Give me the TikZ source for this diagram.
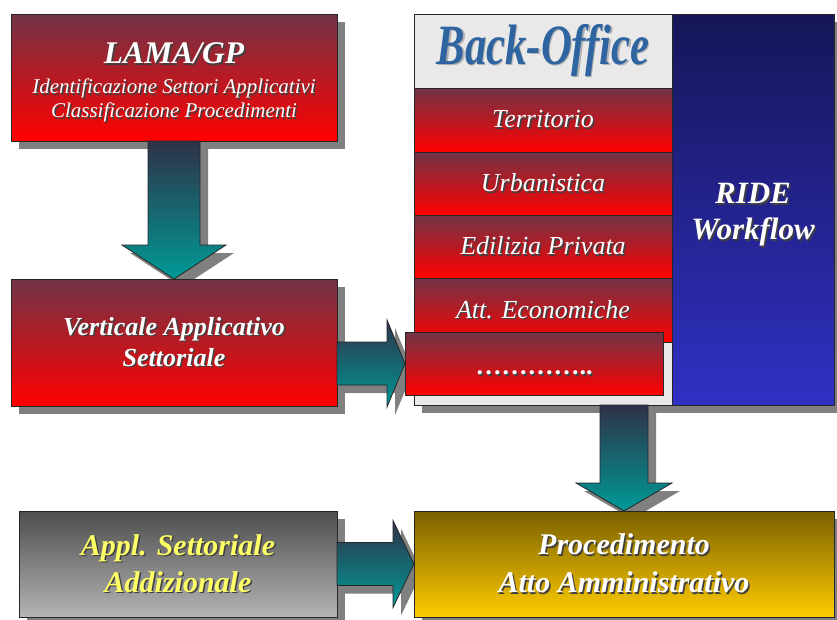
\documentclass[tikz,border=0pt]{standalone}
\usepackage{fontspec}
\setmainfont{Liberation Serif}
\newfontfamily\condserif{Liberation Serif}[FakeStretch=0.75]
\usepackage{tikz}
\usetikzlibrary{calc,shadows}

\definecolor{maroontop}{RGB}{112,52,70}
\definecolor{ridetop}{RGB}{22,22,88}
\definecolor{ridebottom}{RGB}{48,48,196}
\definecolor{goldtop}{RGB}{122,96,0}
\definecolor{goldbottom}{RGB}{255,204,0}
\definecolor{greytop}{RGB}{78,78,78}
\definecolor{greybottom}{RGB}{180,180,180}
\definecolor{arrowtop}{RGB}{47,49,72}
\definecolor{arrowbottom}{RGB}{0,154,150}
\definecolor{shadowgray}{RGB}{128,128,128}
\definecolor{panelgray}{RGB}{233,233,233}
\definecolor{officeblue}{RGB}{46,100,160}
\definecolor{applyellow}{RGB}{255,255,102}

\pgfdeclarelayer{background}
\pgfsetlayers{background,main}

% text with a small dark shadow
\newcommand\shtxt[3][black!75]{\leavevmode\rlap{\kern1.5pt\raisebox{-1.5pt}{\color{#1}#3}}{\color{#2}#3}}
% block arrows: style, from, to, half shaft, half head, head length
\newcommand\fatdown[6]{\path[#1] ($(#2)+(-#4,0)$) -- ($(#3)+(-#4,#6)$) -- ($(#3)+(-#5,#6)$) -- (#3)
  -- ($(#3)+(#5,#6)$) -- ($(#3)+(#4,#6)$) -- ($(#2)+(#4,0)$) -- cycle;}
\newcommand\fatright[6]{\path[#1] ($(#2)+(0,#4)$) -- ($(#3)+(-#6,#4)$) -- ($(#3)+(-#6,#5)$) -- (#3)
  -- ($(#3)+(-#6,-#5)$) -- ($(#3)+(-#6,-#4)$) -- ($(#2)+(0,-#4)$) -- cycle;}

\tikzset{
  box/.style={draw=black!85, line width=0.8pt, inner sep=0pt, outer sep=0pt, align=center},
  boxshadow/.style={drop shadow={shadow xshift=8pt, shadow yshift=-8pt, fill=shadowgray, opacity=1}},
  redbox/.style={box, top color=maroontop, bottom color=red},
  ridebox/.style={box, top color=ridetop, bottom color=ridebottom},
  goldbox/.style={box, top color=goldtop, bottom color=goldbottom},
  greybox/.style={box, top color=greytop, bottom color=greybottom},
  rowbox/.style={redbox, minimum width=258pt, font=\fontsize{26}{30}\selectfont\itshape},
  fatarrow/.style={draw=black!85, line width=0.8pt, top color=arrowtop, bottom color=arrowbottom},
  arrowshade/.style={fill=shadowgray, transform canvas={shift={(8pt,-8pt)}}},
}

\begin{document}
\begin{tikzpicture}[x=1pt, y=1pt]
  \useasboundingbox (0,0) rectangle (837,-619);

  % back-office panel
  \node[box, boxshadow, fill=panelgray, minimum width=420pt, minimum height=391pt] (backoffice) at (624,-209.5) {};
  \node[font=\condserif\fontsize{57}{60}\selectfont\bfseries\itshape] (header) at (543,-51)
    {\shtxt[black!30]{officeblue}{Back-Office}};
  \node[rowbox, minimum height=64pt] (terr) at (543,-120) {\shtxt{white}{Territorio}};
  \node[rowbox, minimum height=63pt] (urb) at (543,-183.5) {\shtxt{white}{Urbanistica}};
  \node[rowbox, minimum height=63pt] (edil) at (543,-246.5) {\shtxt{white}{Edilizia Privata}};
  \node[rowbox, minimum height=64pt] (att) at (543,-310) {\shtxt{white}{Att. Economiche}};
  \node[ridebox, minimum width=162pt, minimum height=391pt,
        font=\fontsize{31}{36}\selectfont\bfseries\itshape] (ride) at (753,-209.5)
    {\rule{0pt}{33pt}\shtxt{white}{RIDE}\\ \shtxt{white}{Workflow}};

  % left column
  \node[redbox, boxshadow, minimum width=326pt, minimum height=127pt,
        font=\fontsize{21}{24}\selectfont\itshape] (lama) at (174,-77.5)
    {\rule{0pt}{32pt}\shtxt{white}{\fontsize{31.5}{34}\selectfont\bfseries LAMA/GP}\\[6pt]
     \shtxt{white}{Identificazione Settori Applicativi}\\
     \shtxt{white}{Classificazione Procedimenti}};
  \node[redbox, boxshadow, minimum width=326pt, minimum height=127pt,
        font=\fontsize{26}{31}\selectfont\bfseries\itshape] (vert) at (174,-342.5)
    {\shtxt{white}{Verticale Applicativo}\\ \shtxt{white}{Settoriale}};

  % bottom row
  \node[greybox, boxshadow, minimum width=318pt, minimum height=106pt,
        font=\fontsize{30}{37}\selectfont\bfseries\itshape] (appl) at (178,-564)
    {\shtxt{applyellow}{Appl. Settoriale}\\ \shtxt{applyellow}{Addizionale}};
  \node[goldbox, boxshadow, minimum width=420pt, minimum height=106pt,
        font=\fontsize{30}{38}\selectfont\bfseries\itshape] (proc) at (624,-564)
    {\shtxt{white}{Procedimento}\\ \shtxt{white}{Atto Amministrativo}};

  \node[redbox, minimum width=258pt, minimum height=63pt,
        font=\fontsize{26}{30}\selectfont\bfseries] (dots) at (534,-363.5)
    {\raisebox{-11pt}[0pt][0pt]{\shtxt{white}{…………..}}};

  \coordinate (vertout) at (vert.east |- dots.west);

  % arrows
  \begin{pgfonlayer}{background}
    \fatdown{arrowshade}{lama.south}{vert.north}{26}{52}{34}
    \fatright{arrowshade}{vertout}{dots.west}{21.5}{43.5}{18}
    \fatdown{arrowshade}{backoffice.south}{proc.north}{24}{48}{28}
    \fatright{arrowshade}{appl.east}{proc.west}{21.5}{43.5}{21}
  \end{pgfonlayer}
  \fatdown{fatarrow}{lama.south}{vert.north}{26}{52}{34}
  \fatright{fatarrow}{vertout}{dots.west}{21.5}{43.5}{18}
  \fatdown{fatarrow}{backoffice.south}{proc.north}{24}{48}{28}
  \fatright{fatarrow}{appl.east}{proc.west}{21.5}{43.5}{21}
\end{tikzpicture}
\end{document}
